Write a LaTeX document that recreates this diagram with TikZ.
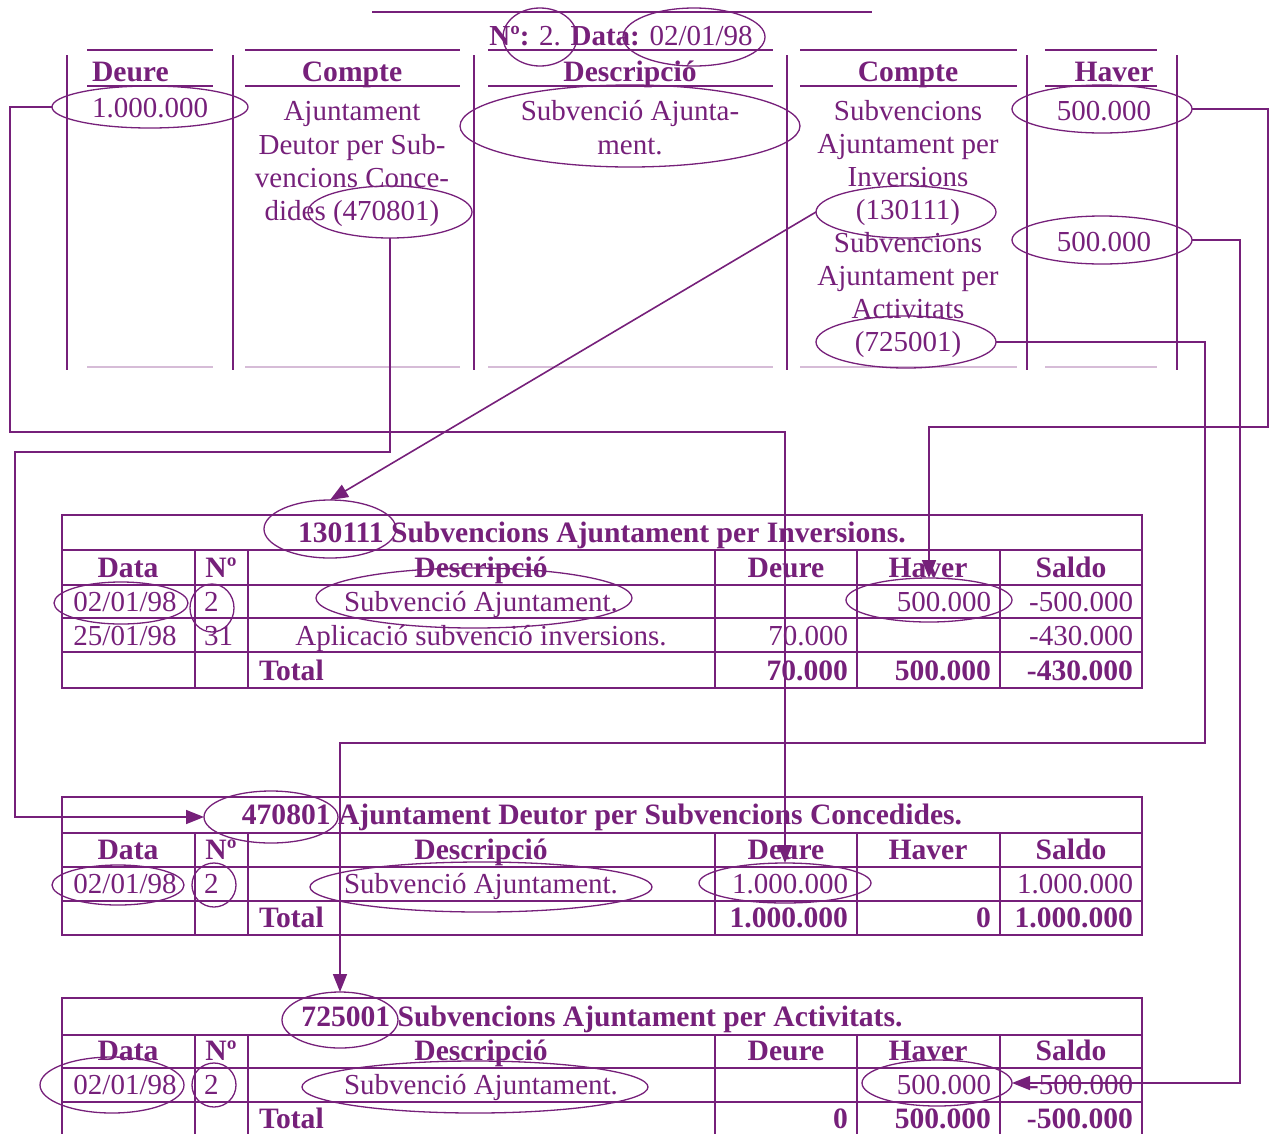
\documentclass[tikz,border=0pt]{standalone}
\usepackage{fontspec}
\setmainfont{Liberation Serif}
\usetikzlibrary{shapes.geometric,arrows.meta}
\definecolor{pur}{RGB}{118,32,122}
\begin{document}
\begin{tikzpicture}[x=1pt,y=-1pt,
  txt/.style={text=pur,inner sep=0pt,outer sep=0pt,font=\fontsize{29}{34}\selectfont,anchor=base},
  bt/.style={txt,font=\fontsize{29.6}{34}\selectfont\bfseries},
  lt/.style={txt,anchor=base west},
  rt/.style={txt,anchor=base east},
  rbt/.style={bt,anchor=base east},
  lbt/.style={bt,anchor=base west},
  ell/.style n args={2}{ellipse,draw=pur,line width=1.3pt,inner sep=0pt,outer sep=0pt,minimum width=#1,minimum height=#2},
  grid/.style={draw=pur,line width=1.3pt},
  faint/.style={draw=pur!30,line width=1.3pt},
  conn/.style={draw=pur,line width=1.6pt},
  arr/.style={conn,-{Triangle[length=18pt,width=14pt]}}]
\useasboundingbox (0,0) rectangle (1271,1133);

% ---------- journal entry ----------
\draw[grid] (372,12) -- (872,12);
\node[txt] (ttl) at (621,45) {\textbf{Nº:} 2. \textbf{Data:} 02/01/98};
\foreach \x in {67,233,474,787,1027,1177} \draw[grid] (\x,55) -- (\x,370);
\foreach \a/\b in {87/213,245/460,488/773,800/1017,1045/1157}{
  \draw[grid] (\a,50) -- (\b,50);
  \draw[grid] (\a,86) -- (\b,86);
  \draw[faint] (\a,367) -- (\b,367);
}
\node[lbt] (hDeure) at (92,81) {Deure};
\node[bt] (hComp1) at (352,81) {Compte};
\node[bt] (hDesc) at (630,81) {Descripció};
\node[bt] (hComp2) at (908,81) {Compte};
\node[bt] (hHaver) at (1114,81) {Haver};

\node[lt] (vDeure) at (92,117) {1.000.000};
\node[txt] (c2a) at (352,120) {Ajuntament};
\node[txt] (c2b) at (352,154) {Deutor per Sub-};
\node[txt] (c2c) at (352,187) {vencions Conce-};
\node[txt] (c2d) at (352,220) {dides (470801)};
\node[txt] (c3a) at (630,120) {Subvenció Ajunta-};
\node[txt] (c3b) at (630,154) {ment.};
\node[txt] (c4a) at (908,120) {Subvencions};
\node[txt] (c4b) at (908,153) {Ajuntament per};
\node[txt] (c4c) at (908,186) {Inversions};
\node[txt] (c4d) at (908,219) {(130111)};
\node[txt] (c4e) at (908,252) {Subvencions};
\node[txt] (c4f) at (908,285) {Ajuntament per};
\node[txt] (c4g) at (908,318) {Activitats};
\node[txt] (c4h) at (908,351) {(725001)};
\node[txt] (c5a) at (1104,120) {500.000};
\node[txt] (c5b) at (1104,251) {500.000};

\node[ell={74}{58}] (eNo) at (540,37) {};
\node[ell={142}{58}] (eDate) at (694,37) {};
\node[ell={196}{42}] (eDeure) at (150,107) {};
\node[ell={164}{52}] (e470) at (390,212) {};
\node[ell={340}{82}] (eDesc) at (630,126) {};
\node[ell={180}{52}] (e130) at (906,212) {};
\node[ell={180}{52}] (e725) at (906,342) {};
\node[ell={180}{48}] (eH1) at (1102,109) {};
\node[ell={180}{48}] (eH2) at (1102,240) {};

% ---------- table 130111 ----------
\draw[grid] (62,515) rectangle (1142,688);
\foreach \y in {550,585,618,652} \draw[grid] (62,\y) -- (1142,\y);
\foreach \x in {195,248,715,857,1000} \draw[grid] (\x,550) -- (\x,688);
\node[bt] (t1t) at (602,542) {130111 Subvencions Ajuntament per Inversions.};
\node[bt] (t1h1) at (128,577) {Data};
\node[bt] (t1h2) at (221,577) {Nº};
\node[bt] (t1h3) at (481,577) {Descripció};
\node[bt] (t1h4) at (786,577) {Deure};
\node[bt] (t1h5) at (928,577) {Haver};
\node[bt] (t1h6) at (1071,577) {Saldo};
\node[txt] (t1a1) at (125,611) {02/01/98};
\node[lt] (t1a2) at (204,611) {2};
\node[txt] (t1a3) at (481,611) {Subvenció Ajuntament.};
\node[rt] (t1a5) at (991,611) {500.000};
\node[rt] (t1a6) at (1133,611) {-500.000};
\node[txt] (t1b1) at (125,645) {25/01/98};
\node[lt] (t1b2) at (204,645) {31};
\node[txt] (t1b3) at (481,645) {Aplicació subvenció inversions.};
\node[rt] (t1b4) at (848,645) {70.000};
\node[rt] (t1b6) at (1133,645) {-430.000};
\node[lbt] (t1c3) at (259,680) {Total};
\node[rbt] (t1c4) at (848,680) {70.000};
\node[rbt] (t1c5) at (991,680) {500.000};
\node[rbt] (t1c6) at (1133,680) {-430.000};
\node[ell={132}{58}] (t1code) at (330,529) {};
\node[ell={134}{42}] (t1date) at (121,603) {};
\node[ell={44}{48}] (t1no) at (212,608) {};
\node[ell={316}{60}] (t1desc) at (474,598) {};
\node[ell={166}{44}] (t1haver) at (929,600) {};

% ---------- table 470801 ----------
\draw[grid] (62,797) rectangle (1142,935);
\foreach \y in {833,867,901} \draw[grid] (62,\y) -- (1142,\y);
\foreach \x in {195,248,715,857,1000} \draw[grid] (\x,833) -- (\x,935);
\node[bt] (t2t) at (602,824) {470801 Ajuntament Deutor per Subvencions Concedides.};
\node[bt] (t2h1) at (128,859) {Data};
\node[bt] (t2h2) at (221,859) {Nº};
\node[bt] (t2h3) at (481,859) {Descripció};
\node[bt] (t2h4) at (786,859) {Deure};
\node[bt] (t2h5) at (928,859) {Haver};
\node[bt] (t2h6) at (1071,859) {Saldo};
\node[txt] (t2a1) at (125,893) {02/01/98};
\node[lt] (t2a2) at (204,893) {2};
\node[txt] (t2a3) at (481,893) {Subvenció Ajuntament.};
\node[rt] (t2a4) at (848,893) {1.000.000};
\node[rt] (t2a6) at (1133,893) {1.000.000};
\node[lbt] (t2c3) at (259,927) {Total};
\node[rbt] (t2c4) at (848,927) {1.000.000};
\node[rbt] (t2c5) at (991,927) {0};
\node[rbt] (t2c6) at (1133,927) {1.000.000};
\node[ell={134}{52}] (t2code) at (271,817) {};
\node[ell={132}{40}] (t2date) at (118,885) {};
\node[ell={44}{44}] (t2no) at (214,885) {};
\node[ell={342}{50}] (t2desc) at (481,887) {};
\node[ell={172}{40}] (t2deure) at (785,883) {};

% ---------- table 725001 ----------
\draw[grid] (62,998) rectangle (1142,1140);
\foreach \y in {1035,1068,1102} \draw[grid] (62,\y) -- (1142,\y);
\foreach \x in {195,248,715,857,1000} \draw[grid] (\x,1035) -- (\x,1140);
\node[bt] (t3t) at (602,1026) {725001 Subvencions Ajuntament per Activitats.};
\node[bt] (t3h1) at (128,1060) {Data};
\node[bt] (t3h2) at (221,1060) {Nº};
\node[bt] (t3h3) at (481,1060) {Descripció};
\node[bt] (t3h4) at (786,1060) {Deure};
\node[bt] (t3h5) at (928,1060) {Haver};
\node[bt] (t3h6) at (1071,1060) {Saldo};
\node[txt] (t3a1) at (125,1094) {02/01/98};
\node[lt] (t3a2) at (204,1094) {2};
\node[txt] (t3a3) at (481,1094) {Subvenció Ajuntament.};
\node[rt] (t3a5) at (991,1094) {500.000};
\node[rt] (t3a6) at (1133,1094) {-500.000};
\node[lbt] (t3c3) at (259,1128) {Total};
\node[rbt] (t3c4) at (848,1128) {0};
\node[rbt] (t3c5) at (991,1128) {500.000};
\node[rbt] (t3c6) at (1133,1128) {-500.000};
\node[ell={116}{56}] (t3code) at (340,1020) {};
\node[ell={144}{56}] (t3date) at (112,1085) {};
\node[ell={44}{44}] (t3no) at (214,1085) {};
\node[ell={346}{52}] (t3desc) at (475,1087) {};
\node[ell={150}{46}] (t3haver) at (937,1083) {};

% ---------- connectors ----------
\coordinate (bA) at (10,432);
\coordinate (bB) at (15,452);
\coordinate (bD) at (1268,427);
\coordinate (bE) at (1240,1083);
\coordinate (bF) at (1205,743);
\draw[arr] (eDeure.west) -| (bA) -| (t2deure.north);
\draw[arr] (e470.south) |- (bB) |- (t2code.west);
\draw[arr] (e130.west) -- (t1code.north);
\draw[arr] (eH1.east) -| (bD) -| (t1haver.north);
\draw[arr] (eH2.east) -| (bE) -- (t3haver.east);
\draw[arr] (e725.east) -| (bF) -| (t3code.north);
\end{tikzpicture}
\end{document}
